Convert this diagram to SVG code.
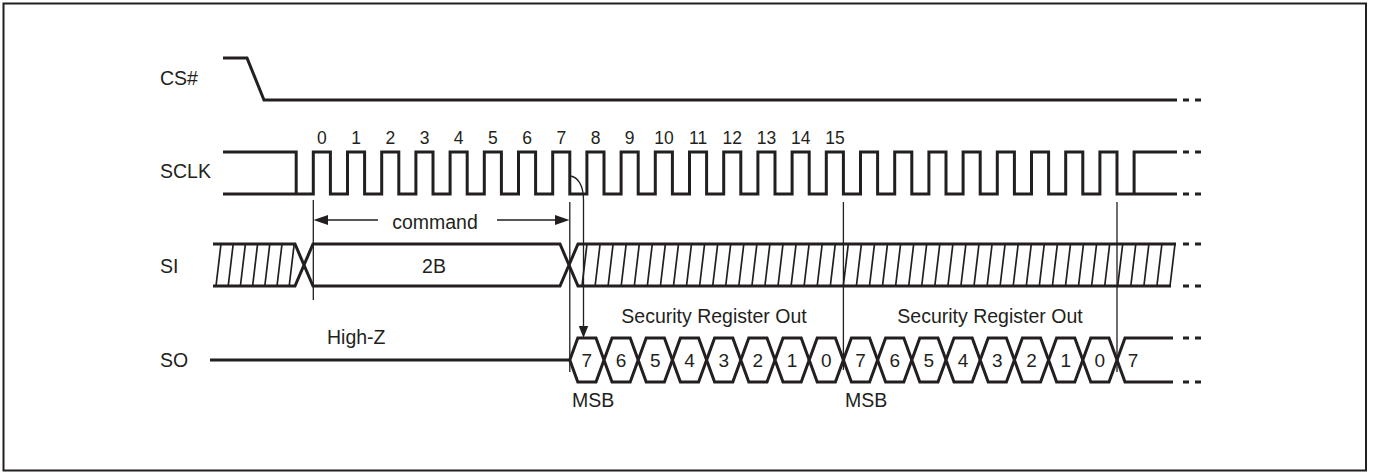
<svg xmlns="http://www.w3.org/2000/svg" width="1374" height="472" viewBox="0 0 1374 472">
<style>
.sig{fill:none;stroke:#231f20;stroke-width:3;stroke-linejoin:miter;stroke-linecap:butt}
.hat{fill:none;stroke:#231f20;stroke-width:1.7}
.thin{fill:none;stroke:#231f20;stroke-width:1.3}
.dash{fill:none;stroke:#231f20;stroke-width:3;stroke-dasharray:6 6}
.hex{fill:#fff;stroke:#231f20;stroke-width:3;stroke-linejoin:miter}
.ah{fill:#231f20;stroke:none}
text{font-family:"Liberation Sans",Arial,sans-serif;fill:#231f20}
.lbl{font-size:19.5px}
.num{font-size:17.5px;text-anchor:middle}
.bit{font-size:19px;text-anchor:middle}
.mid{font-size:19.5px;text-anchor:middle}
</style>
<rect x="3.5" y="3.5" width="1362.5" height="467" fill="#fff" stroke="#231f20" stroke-width="2"/>

<g id="cs">
<text class="lbl" x="160" y="85">CS#</text>
<path class="sig" d="M223 58 H247 L264 100 H1177"/>
<path class="dash" d="M1183 100 H1201"/>
</g>

<g id="sclk">
<text class="lbl" x="160" y="178">SCLK</text>
<path class="sig" d="M223 152 H296.2 V194 M223 194 H313.3 V152 H330.4 V194 H347.5 V152 H364.6 V194 H381.7 V152 H398.8 V194 H415.9 V152 H433 V194 H450.1 V152 H467.2 V194 H484.3 V152 H501.4 V194 H518.5 V152 H535.6 V194 H552.7 V152 H569.8 V194 H586.9 V152 H604 V194 H621.1 V152 H638.2 V194 H655.3 V152 H672.4 V194 H689.5 V152 H706.6 V194 H723.7 V152 H740.8 V194 H757.9 V152 H775 V194 H792.1 V152 H809.2 V194 H826.3 V152 H843.4 V194 H860.5 V152 H877.6 V194 H894.7 V152 H911.8 V194 H928.9 V152 H946 V194 H963.1 V152 H980.2 V194 H997.3 V152 H1014.4 V194 H1031.5 V152 H1048.6 V194 H1065.7 V152 H1082.8 V194 H1099.9 V152 H1117 V194 H1177 M1134.1 194 V152 H1177"/>
<path class="dash" d="M1183 152 H1201 M1183 194 H1201"/>
<g>
<text class="num" x="321.9" y="144">0</text>
<text class="num" x="356.1" y="144">1</text>
<text class="num" x="390.3" y="144">2</text>
<text class="num" x="424.5" y="144">3</text>
<text class="num" x="458.7" y="144">4</text>
<text class="num" x="492.9" y="144">5</text>
<text class="num" x="527.1" y="144">6</text>
<text class="num" x="561.3" y="144">7</text>
<text class="num" x="595.5" y="144">8</text>
<text class="num" x="629.7" y="144">9</text>
<text class="num" x="663.9" y="144">10</text>
<text class="num" x="698.1" y="144">11</text>
<text class="num" x="732.3" y="144">12</text>
<text class="num" x="766.5" y="144">13</text>
<text class="num" x="800.7" y="144">14</text>
<text class="num" x="834.9" y="144">15</text>
</g>
</g>

<g id="si">
<text class="lbl" x="160" y="273">SI</text>
<path class="hat" d="M216 286 l5 -42 M228.2 286 l5 -42 M240.4 286 l5 -42 M252.6 286 l5 -42 M264.8 286 l5 -42 M277 286 l5 -42 M289.2 286 l5 -42"/>
<path class="hat" d="M582 286 l5 -42 M595.1 286 l5 -42 M608.1 286 l5 -42 M621.2 286 l5 -42 M634.3 286 l5 -42 M647.3 286 l5 -42 M660.4 286 l5 -42 M673.5 286 l5 -42 M686.5 286 l5 -42 M699.6 286 l5 -42 M712.7 286 l5 -42 M725.7 286 l5 -42 M738.8 286 l5 -42 M751.9 286 l5 -42 M764.9 286 l5 -42 M778 286 l5 -42 M791.1 286 l5 -42 M804.1 286 l5 -42 M817.2 286 l5 -42 M830.3 286 l5 -42 M843.3 286 l5 -42 M856.4 286 l5 -42 M869.5 286 l5 -42 M882.5 286 l5 -42 M895.6 286 l5 -42 M908.7 286 l5 -42 M921.7 286 l5 -42 M934.8 286 l5 -42 M947.9 286 l5 -42 M960.9 286 l5 -42 M974 286 l5 -42 M987.1 286 l5 -42 M1000.1 286 l5 -42 M1013.2 286 l5 -42 M1026.3 286 l5 -42 M1039.3 286 l5 -42 M1052.4 286 l5 -42 M1065.5 286 l5 -42 M1078.5 286 l5 -42 M1091.6 286 l5 -42 M1104.7 286 l5 -42 M1117.7 286 l5 -42 M1130.8 286 l5 -42 M1143.9 286 l5 -42 M1156.9 286 l5 -42 M1170 286 l5 -42"/>
<path class="sig" d="M213 244 H295 L313 286 H560 L578 244 H1176 M213 286 H295 L313 244 H560 L578 286 H1171"/>
<path class="dash" d="M1183 244 H1201 M1183 286 H1201"/>
<text class="mid" x="434" y="273">2B</text>
</g>

<g id="so">
<text class="lbl" x="160" y="367">SO</text>
<path class="sig" d="M210 360 H569.8"/>
<g class="hex">
<polygon points="569.8,360 577.8,338 596,338 604,360 596,382 577.8,382"/>
<polygon points="604,360 612,338 630.2,338 638.2,360 630.2,382 612,382"/>
<polygon points="638.2,360 646.2,338 664.4,338 672.4,360 664.4,382 646.2,382"/>
<polygon points="672.4,360 680.4,338 698.6,338 706.6,360 698.6,382 680.4,382"/>
<polygon points="706.6,360 714.6,338 732.8,338 740.8,360 732.8,382 714.6,382"/>
<polygon points="740.8,360 748.8,338 767,338 775,360 767,382 748.8,382"/>
<polygon points="775,360 783,338 801.2,338 809.2,360 801.2,382 783,382"/>
<polygon points="809.2,360 817.2,338 835.4,338 843.4,360 835.4,382 817.2,382"/>
<polygon points="843.4,360 851.4,338 869.6,338 877.6,360 869.6,382 851.4,382"/>
<polygon points="877.6,360 885.6,338 903.8,338 911.8,360 903.8,382 885.6,382"/>
<polygon points="911.8,360 919.8,338 938,338 946,360 938,382 919.8,382"/>
<polygon points="946,360 954,338 972.2,338 980.2,360 972.2,382 954,382"/>
<polygon points="980.2,360 988.2,338 1006.4,338 1014.4,360 1006.4,382 988.2,382"/>
<polygon points="1014.4,360 1022.4,338 1040.6,338 1048.6,360 1040.6,382 1022.4,382"/>
<polygon points="1048.6,360 1056.6,338 1074.8,338 1082.8,360 1074.8,382 1056.6,382"/>
<polygon points="1082.8,360 1090.8,338 1109,338 1117,360 1109,382 1090.8,382"/>
</g>
<path class="sig" d="M1117 360 L1125 338 H1173 M1117 360 L1125 382 H1173"/>
<path class="dash" d="M1183 338 H1201 M1183 382 H1201"/>
<g>
<text class="bit" x="586.9" y="367">7</text>
<text class="bit" x="621.1" y="367">6</text>
<text class="bit" x="655.3" y="367">5</text>
<text class="bit" x="689.5" y="367">4</text>
<text class="bit" x="723.7" y="367">3</text>
<text class="bit" x="757.9" y="367">2</text>
<text class="bit" x="792.1" y="367">1</text>
<text class="bit" x="826.3" y="367">0</text>
<text class="bit" x="860.5" y="367">7</text>
<text class="bit" x="894.7" y="367">6</text>
<text class="bit" x="928.9" y="367">5</text>
<text class="bit" x="963.1" y="367">4</text>
<text class="bit" x="997.3" y="367">3</text>
<text class="bit" x="1031.5" y="367">2</text>
<text class="bit" x="1065.7" y="367">1</text>
<text class="bit" x="1099.9" y="367">0</text>
<text class="bit" x="1133" y="367">7</text>
</g>
<text class="lbl" x="327" y="344">High-Z</text>
<text class="mid" x="714" y="323">Security Register Out</text>
<text class="mid" x="990" y="323">Security Register Out</text>
<text class="lbl" x="572" y="407">MSB</text>
<text class="lbl" x="845" y="407">MSB</text>
</g>

<g id="connectors">
<path class="thin" d="M313.3 200 V300 M569.8 202 V372 M843.4 202 V370 M1117 202 V372"/>
<path class="thin" d="M378 220 H325 M497 220 H558"/>
<polygon class="ah" points="313.5,220 328,215 328,225"/>
<polygon class="ah" points="569.5,220 555,215 555,225"/>
<text class="mid" x="435" y="229">command</text>
<path class="thin" d="M570.5 176 C577 177 583.5 184 583.5 200 V328"/>
<polygon class="ah" points="583.5,338 578.8,326 588.2,326"/>
</g>
</svg>
